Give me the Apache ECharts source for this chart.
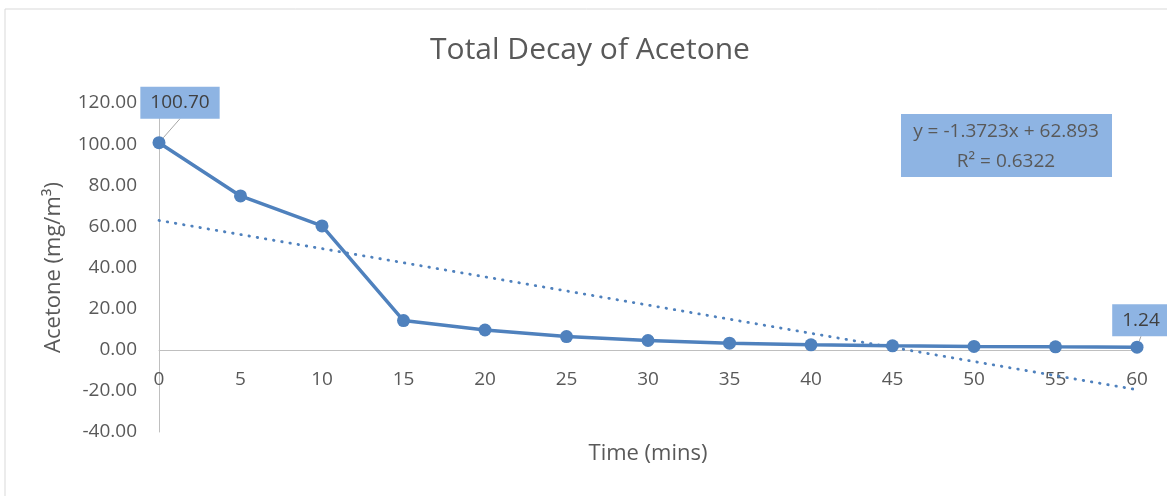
<!DOCTYPE html>
<html>
<head>
<meta charset="utf-8">
<script src="https://cdn.jsdelivr.net/npm/echarts@6/dist/echarts.min.js"></script>
<style>
  html, body { margin: 0; padding: 0; background: #fff; }
  #chart { width: 1167px; height: 496px; }
</style>
</head>
<body>
<div id="chart"></div>
<script>
// time points (mins) and measured acetone (mg/m3)
var times = [0, 5, 10, 15, 20, 25, 30, 35, 40, 45, 50, 55, 60];
var acetone = [100.70, 74.8, 60.2, 14.2, 9.6, 6.4, 4.5, 3.2, 2.4, 1.9, 1.6, 1.4, 1.24];
// linear trendline end points, from the equation shown on the chart
var trendX = [0, 60];
var trendY = [62.893, -19.445];
var yTicks = [-40, 120, 20]; // min, max, step
var equationText = 'y = -1.3723x + 62.893\nR² = 0.6322';

var FONT = 'Open Sans';
var TXT = '#595959';
var BLUE = '#4F81BD';
var BOX = '#8EB4E3';

var chart = echarts.init(document.getElementById('chart'));

// label callouts only on first and last point
var labelShift = {};
labelShift[0] = [21, -40];
labelShift[times.length - 1] = [4, -27];

var lineData = times.map(function (t, i) {
  var item = { value: [t, acetone[i]] };
  if (labelShift[i]) {
    item.label = {
      show: true,
      position: 'inside',
      formatter: function (p) { return p.value[1].toFixed(2); },
      backgroundColor: BOX,
      padding: [7, 10, 6, 10],
      color: '#404040',
      fontFamily: FONT,
      fontSize: 19
    };
  }
  return item;
});

var trendData = trendX.map(function (x, i) { return [x, trendY[i]]; });

chart.setOption({
  animation: false,
  title: {
    text: 'Total Decay of Acetone',
    left: 590,
    textAlign: 'center',
    top: 35,
    padding: 0,
    textStyle: { fontFamily: FONT, fontSize: 30, fontWeight: 'normal', color: TXT }
  },
  grid: { left: 159, right: 30, top: 103, bottom: 64, outerBoundsMode: 'none', containLabel: false },
  xAxis: {
    type: 'value',
    min: 0,
    max: 60,
    interval: 5,
    name: 'Time (mins)',
    nameLocation: 'middle',
    nameGap: 11,
    nameTextStyle: { fontFamily: FONT, fontSize: 22, color: TXT },
    axisLine: { onZero: true, lineStyle: { color: '#BFBFBF', width: 1 } },
    axisTick: { show: false },
    splitLine: { show: false },
    axisLabel: { margin: -62, fontFamily: FONT, fontSize: 19, color: TXT }
  },
  yAxis: {
    type: 'value',
    min: yTicks[0],
    max: yTicks[1],
    interval: yTicks[2],
    name: 'Acetone (mg/m³)',
    nameLocation: 'middle',
    nameGap: 94,
    nameTextStyle: { fontFamily: FONT, fontSize: 22, color: TXT },
    axisLine: { show: true, lineStyle: { color: '#BFBFBF', width: 1 } },
    axisTick: { show: false },
    splitLine: { show: false },
    axisLabel: {
      margin: 22,
      fontFamily: FONT,
      fontSize: 19,
      color: TXT,
      formatter: function (v) { return v.toFixed(2); }
    }
  },
  graphic: [
    {
      type: 'rect',
      silent: true,
      shape: { x: 5, y: 9, width: 1300, height: 700 },
      style: { fill: 'none', stroke: '#D9D9D9', lineWidth: 1 }
    },
    {
      type: 'rect',
      silent: true,
      shape: { x: 901, y: 114, width: 211, height: 63 },
      style: { fill: BOX }
    },
    {
      type: 'text',
      silent: true,
      x: 1006,
      y: 117,
      style: {
        text: equationText,
        fill: TXT,
        font: '19px "' + FONT + '"',
        align: 'center',
        lineHeight: 30
      }
    }
  ],
  series: [
    {
      type: 'line',
      data: trendData,
      symbol: 'none',
      silent: true,
      z: 1,
      lineStyle: { color: BLUE, width: 2.8, type: [0.5, 7.8], cap: 'round' }
    },
    {
      type: 'line',
      data: lineData,
      symbol: 'circle',
      symbolSize: 13,
      z: 3,
      itemStyle: { color: BLUE },
      lineStyle: { color: BLUE, width: 3.5 },
      labelLine: { show: true, lineStyle: { color: '#A6A6A6', width: 1 } },
      labelLayout: function (params) {
        var s = labelShift[params.dataIndex];
        if (!s) return {};
        return { dx: s[0], dy: s[1] };
      }
    }
  ]
});
</script>
</body>
</html>
